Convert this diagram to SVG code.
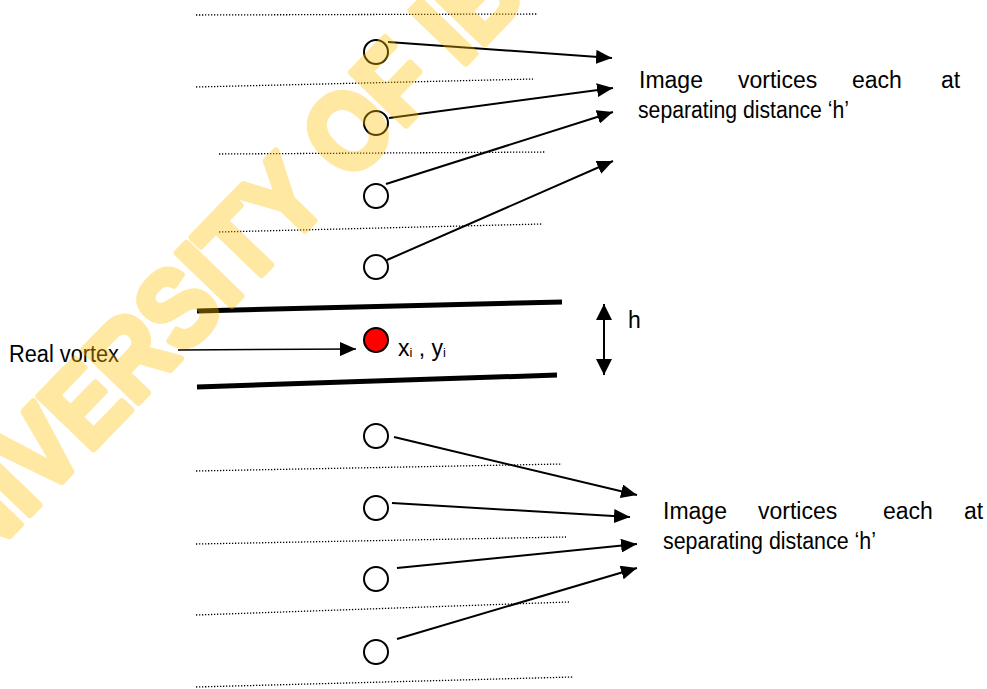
<svg xmlns="http://www.w3.org/2000/svg" width="987" height="689" viewBox="0 0 987 689">
<style>
.dot{stroke:#000;stroke-width:1.3;stroke-dasharray:1.3 1.7;fill:none}
.wall{stroke:#000;stroke-width:5;fill:none}
.img{fill:#fff;stroke:#000;stroke-width:2}
.real{fill:#f00;stroke:#000;stroke-width:2}
.arr{stroke:#000;stroke-width:2;fill:none;marker-end:url(#ah)}
.lbl{font-family:"Liberation Sans",Arial,sans-serif;font-size:23px;fill:#000}
.wm{font-family:"Liberation Sans",Arial,sans-serif;font-weight:bold;font-size:110px;fill:#FFC000;stroke:#FFC000;stroke-width:7;stroke-linejoin:round}
</style>
<defs>
<marker id="ah" markerUnits="userSpaceOnUse" markerWidth="16" markerHeight="14" refX="16" refY="7" orient="auto">
<path d="M0,0 L16,7 L0,14 z" fill="#000"/>
</marker>
<marker id="ah2" markerUnits="userSpaceOnUse" markerWidth="16" markerHeight="16" refX="16" refY="8" orient="auto-start-reverse">
<path d="M0,0 L16,8 L0,16 z" fill="#000"/>
</marker>
</defs>

<g id="guides">
<line class="dot" x1="196" y1="15" x2="537" y2="14"/>
<line class="dot" x1="196" y1="87" x2="533" y2="79"/>
<line class="dot" x1="219" y1="154" x2="546" y2="152"/>
<line class="dot" x1="219" y1="232" x2="542" y2="224"/>
<line class="dot" x1="196" y1="471" x2="562" y2="464"/>
<line class="dot" x1="196" y1="544" x2="566" y2="537"/>
<line class="dot" x1="196" y1="615" x2="569" y2="602"/>
<line class="dot" x1="196" y1="687" x2="573" y2="677"/>
</g>

<g id="walls">
<line class="wall" x1="197" y1="311" x2="562" y2="302"/>
<line class="wall" x1="197" y1="387" x2="557" y2="375"/>
</g>

<g id="connectors">
<line class="arr" x1="388" y1="42" x2="612" y2="58"/>
<line class="arr" x1="389" y1="118" x2="613" y2="88"/>
<line class="arr" x1="386" y1="184" x2="613" y2="112"/>
<line class="arr" x1="387" y1="260" x2="613" y2="161"/>
<line class="arr" x1="394" y1="437" x2="637" y2="495"/>
<line class="arr" x1="392" y1="503" x2="630" y2="517"/>
<line class="arr" x1="397" y1="568" x2="637" y2="544"/>
<line class="arr" x1="397" y1="639" x2="637" y2="568"/>
<line x1="178" y1="350" x2="356" y2="349" stroke="#000" stroke-width="1.5" marker-end="url(#ah)"/>
<line x1="604" y1="304" x2="604" y2="375" stroke="#000" stroke-width="2" marker-start="url(#ah2)" marker-end="url(#ah2)"/>
</g>

<g id="image-vortices-upper">
<circle class="img" cx="376" cy="52" r="12"/>
<circle class="img" cx="376" cy="123" r="12"/>
<circle class="img" cx="376" cy="196" r="12"/>
<circle class="img" cx="376" cy="267" r="12"/>
</g>

<g id="real-vortex">
<circle class="real" cx="376" cy="340" r="12"/>
<text class="lbl" x="398" y="356">x<tspan font-size="13" dy="1">i</tspan><tspan dy="-1"> , y</tspan><tspan font-size="13" dy="1">i</tspan></text>
</g>

<g id="image-vortices-lower">
<circle class="img" cx="376" cy="436" r="12"/>
<circle class="img" cx="376" cy="508" r="12"/>
<circle class="img" cx="376" cy="579" r="12"/>
<circle class="img" cx="376" cy="652" r="12"/>
</g>

<g id="label-real">
<text class="lbl" x="9" y="362" textLength="110" lengthAdjust="spacingAndGlyphs">Real vortex</text>
</g>

<g id="label-h">
<text class="lbl" x="628" y="328">h</text>
</g>

<g id="label-upper">
<text class="lbl" y="88"><tspan x="639">Image</tspan><tspan x="738">vortices</tspan><tspan x="852">each</tspan><tspan x="941">at</tspan></text>
<text class="lbl" x="638" y="118" textLength="211" lengthAdjust="spacingAndGlyphs">separating distance ‘h’</text>
</g>

<g id="label-lower">
<text class="lbl" y="519"><tspan x="663">Image</tspan><tspan x="758">vortices</tspan><tspan x="883">each</tspan><tspan x="964">at</tspan></text>
<text class="lbl" x="663" y="549" textLength="213" lengthAdjust="spacingAndGlyphs">separating distance ‘h’</text>
</g>

<g id="watermark" opacity="0.36">
<text class="wm" transform="translate(-72,620) rotate(-46) scale(0.88,1)">UNIVERSITY OF IBADAN LIBRARY</text>
</g>
</svg>
